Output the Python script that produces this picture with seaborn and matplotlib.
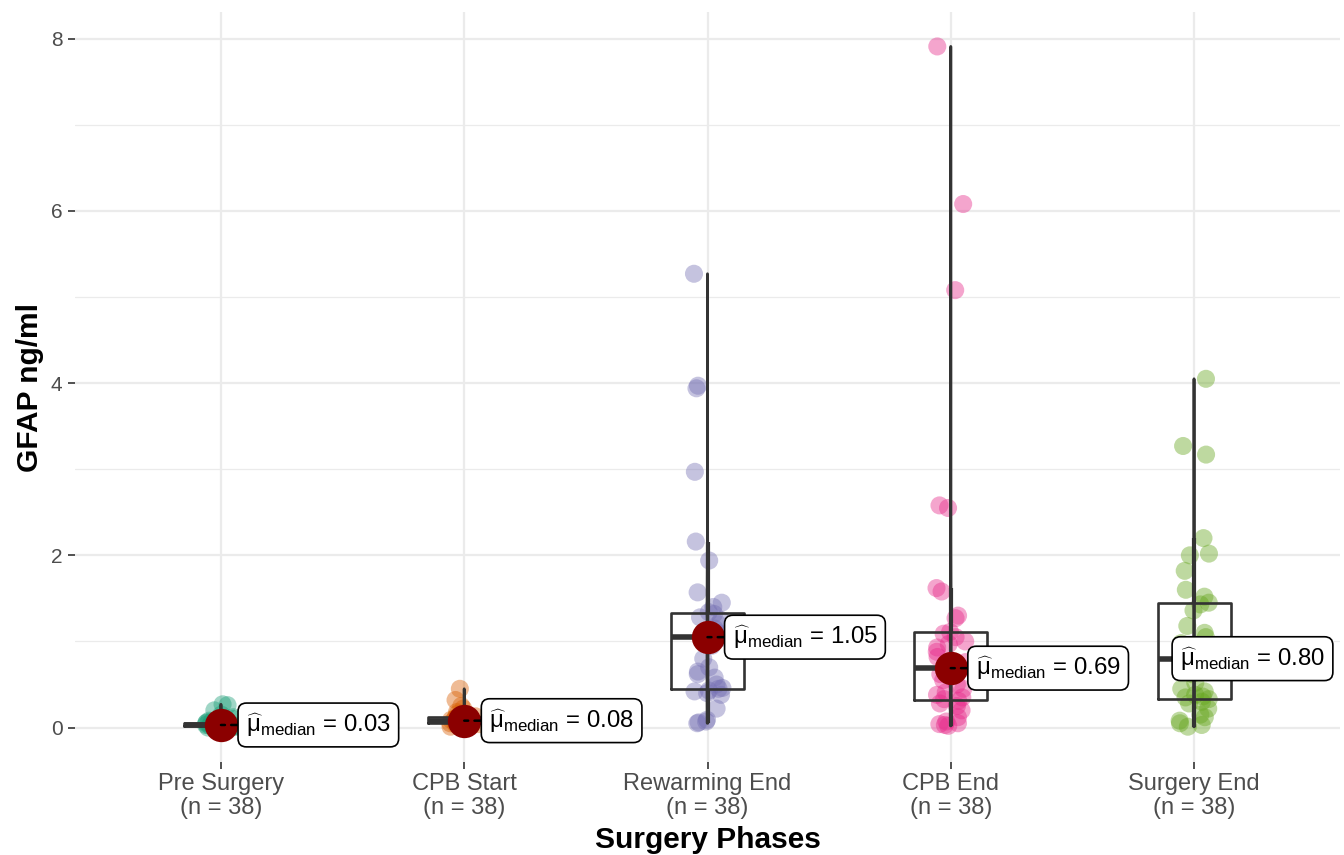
import numpy as np
import pandas as pd
import seaborn as sns
import matplotlib.pyplot as plt
from matplotlib.ticker import MultipleLocator

# ---------------- data ----------------
phases = ["Pre Surgery", "CPB Start", "Rewarming End", "CPB End", "Surgery End"]

pre_surgery = [0.27, 0.26, 0.20, 0.15, 0.12, 0.10, 0.08, 0.07, 0.06, 0.05,
               0.05, 0.05, 0.04, 0.04, 0.04, 0.03, 0.03, 0.03, 0.03, 0.03,
               0.03, 0.03, 0.02, 0.02, 0.02, 0.02, 0.02, 0.02, 0.02, 0.02,
               0.01, 0.01, 0.01, 0.01, 0.01, 0.00, 0.00, 0.00]
cpb_start = [0.45, 0.32, 0.25, 0.22, 0.18, 0.16, 0.14, 0.13, 0.12, 0.12,
             0.12, 0.11, 0.10, 0.10, 0.09, 0.09, 0.09, 0.08, 0.08, 0.08,
             0.07, 0.07, 0.07, 0.06, 0.06, 0.06, 0.05, 0.05, 0.05, 0.05,
             0.04, 0.04, 0.04, 0.03, 0.03, 0.02, 0.02, 0.01]
rewarming_end = [5.27, 3.97, 3.94, 2.97, 2.16, 1.94, 1.57, 1.45, 1.40, 1.34,
                 1.32, 1.28, 1.25, 1.20, 1.15, 1.12, 1.10, 1.08, 1.06, 1.04,
                 0.95, 0.80, 0.70, 0.65, 0.62, 0.58, 0.50, 0.46, 0.45, 0.43,
                 0.42, 0.40, 0.38, 0.22, 0.09, 0.07, 0.06, 0.05]
cpb_end = [7.91, 6.08, 5.08, 2.58, 2.55, 1.62, 1.58, 1.30, 1.27, 1.11,
           1.09, 1.05, 1.00, 0.97, 0.93, 0.88, 0.82, 0.76, 0.70, 0.68,
           0.62, 0.55, 0.50, 0.45, 0.41, 0.38, 0.35, 0.33, 0.31, 0.28,
           0.25, 0.20, 0.12, 0.07, 0.05, 0.04, 0.03, 0.02]
surgery_end = [4.05, 3.27, 3.17, 2.20, 2.02, 2.00, 1.82, 1.60, 1.52, 1.45,
               1.43, 1.36, 1.18, 1.10, 1.05, 0.98, 0.92, 0.86, 0.81, 0.79,
               0.72, 0.62, 0.52, 0.45, 0.42, 0.38, 0.36, 0.35, 0.33, 0.30,
               0.28, 0.22, 0.15, 0.12, 0.08, 0.05, 0.03, 0.01]

palette = ["#1B9E77", "#D95F02", "#7570B3", "#E7298A", "#66A61E"]
y_ticks = [0, 2, 4, 6, 8]

# ---------------- build long table ----------------
series = [pre_surgery, cpb_start, rewarming_end, cpb_end, surgery_end]
df = pd.concat([pd.DataFrame({"phase": p, "gfap": v}) for p, v in zip(phases, series)],
               ignore_index=True)
counts = df.groupby("phase")["gfap"].count()
medians = df.groupby("phase")["gfap"].median()

# ---------------- style ----------------
sns.set_theme(style="white")
plt.rcParams["font.family"] = ["Liberation Sans", "DejaVu Sans"]
plt.rcParams["mathtext.fontset"] = "custom"
plt.rcParams["mathtext.rm"] = "Liberation Sans"
plt.rcParams["mathtext.it"] = "Liberation Sans:italic"
plt.rcParams["mathtext.bf"] = "Liberation Sans:bold"

W, H = 1344, 855
fig = plt.figure(figsize=(W / 100, H / 100), dpi=100)
ax = fig.add_axes([75 / W, 1 - 762 / H, (1340 - 75) / W, (762 - 12) / H])

dark = "#333333"

# jittered points
np.random.seed(3)
sns.stripplot(data=df, x="phase", y="gfap", order=phases, hue="phase",
              hue_order=phases, palette=palette, jitter=0.065, size=13,
              alpha=0.42, linewidth=0, legend=False, ax=ax, zorder=2)

# very thin violins (appear as lines from min to max)
sns.violinplot(data=df, x="phase", y="gfap", order=phases, width=0.004, cut=0,
               fill=False, color=dark, linecolor=dark, linewidth=2.0, inner=None,
               density_norm="width", ax=ax, zorder=3)

# boxplots
sns.boxplot(data=df, x="phase", y="gfap", order=phases, width=0.3, fill=False,
            color=dark, linecolor=dark, showfliers=False, showcaps=False, linewidth=1.9,
            medianprops=dict(linewidth=4, color=dark),
            whiskerprops=dict(linewidth=3.0, color=dark),
            ax=ax, zorder=4)

# median points
sns.pointplot(data=df, x="phase", y="gfap", order=phases, estimator="median",
              errorbar=None, linestyle="none", color="#8B0000", markersize=24,
              markeredgewidth=0, ax=ax, zorder=6)

# median labels
offsets = [25, 25, 25, 25, -14]
for i, p in enumerate(phases):
    m = medians[p]
    ax.annotate(r"$\widehat{\mathrm{\mu}}_{\mathrm{median}}$" + f" = {m:.2f}",
                xy=(i, m), xytext=(offsets[i], 0), textcoords="offset pixels",
                ha="left", va="center", fontsize=17.3, color="black",
                bbox=dict(boxstyle="round,pad=0.33,rounding_size=0.35", fc="white",
                          ec="black", lw=1.2),
                arrowprops=dict(arrowstyle="-", color="black", lw=1.8,
                                linestyle=(0, (2.5, 2.5)), shrinkA=0, shrinkB=0),
                zorder=10)

# axes
ax.set_xlim(-0.6, 4.6)
ax.set_ylim(-0.40, 8.31)
ax.set_yticks(y_ticks)
ax.set_yticklabels([str(t) for t in y_ticks])
ax.yaxis.set_minor_locator(MultipleLocator(1))
ax.set_xticks(range(len(phases)))
ax.set_xticklabels([f"{p}\n(n = {counts[p]})" for p in phases], linespacing=1.1)

ax.grid(True, which="major", axis="both", color="#EBEBEB", linewidth=1.6)
ax.grid(True, which="minor", axis="y", color="#EBEBEB", linewidth=0.9)
ax.set_axisbelow(True)
for s in ax.spines.values():
    s.set_visible(False)

ax.tick_params(axis="y", which="major", left=True, length=5, width=1.2, color=dark,
               labelcolor="#4D4D4D", labelsize=15, pad=4)
ax.tick_params(axis="y", which="minor", left=False)
ax.tick_params(axis="x", bottom=True, length=5, width=1.2, color=dark,
               labelcolor="#4D4D4D", labelsize=17, pad=3)

ax.set_xlabel("Surgery Phases", fontsize=21.5, fontweight="bold", color="black")
ax.set_ylabel("GFAP ng/ml", fontsize=21.5, fontweight="bold", color="black")
ax.xaxis.label.set_va("center")
ax.xaxis.set_label_coords(0.5, (762 - 840) / 750)
ax.yaxis.label.set_va("center")
ax.yaxis.set_label_coords((30 - 75) / 1265, 0.5)

fig.savefig("out.png", dpi=100)
